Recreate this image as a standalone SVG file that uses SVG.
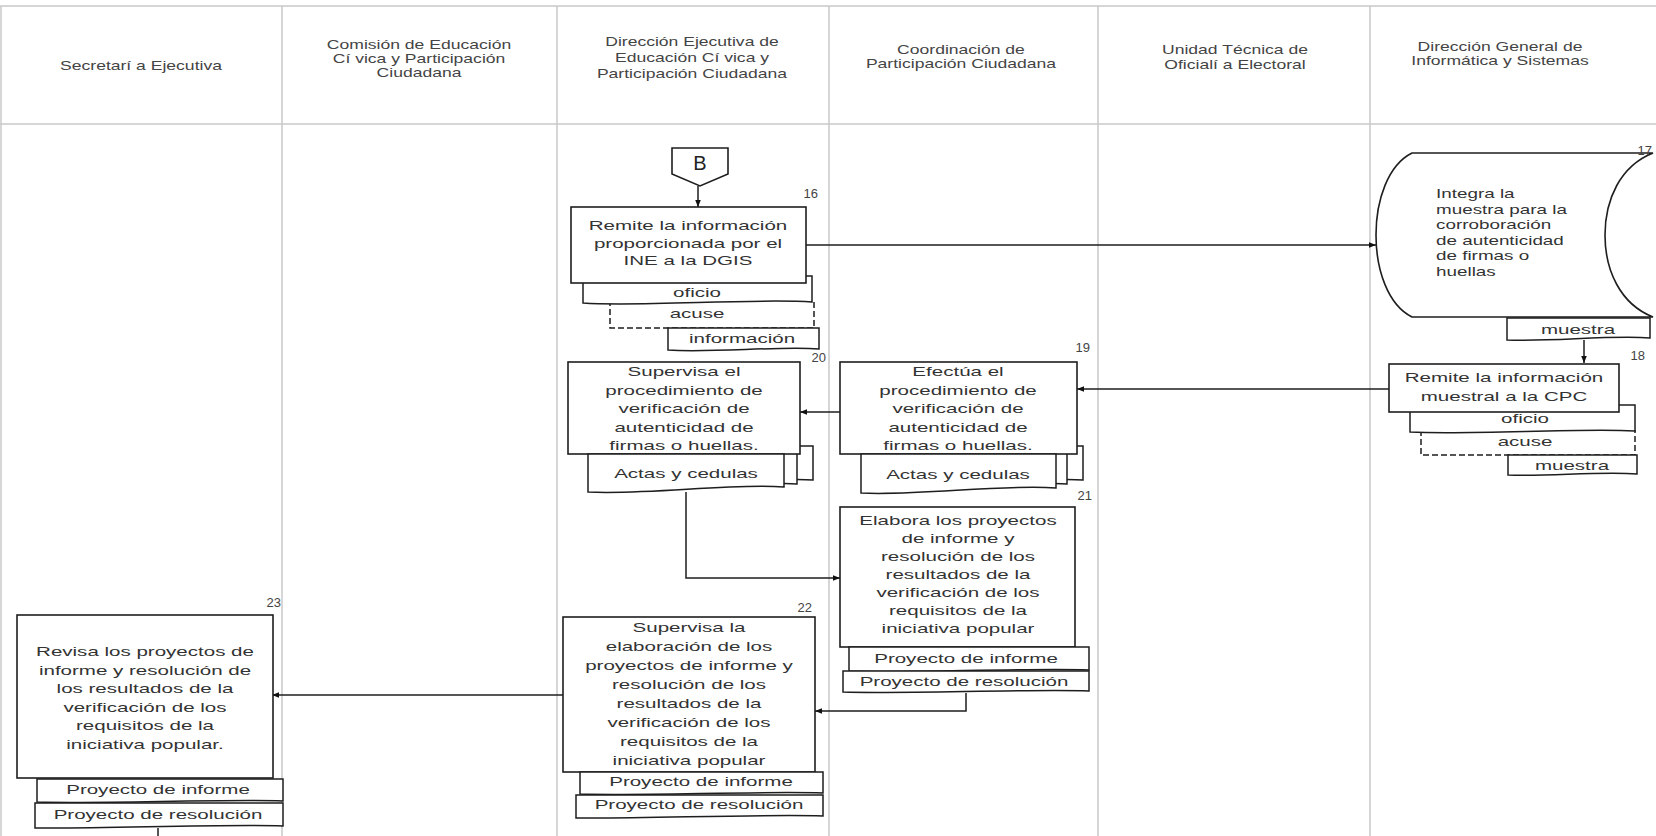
<svg xmlns="http://www.w3.org/2000/svg" width="1656" height="836" viewBox="0 0 1656 836">
<defs>
<style>
.lane{stroke:#c8c8c8;stroke-width:1.5;fill:none}
.box{fill:#fff;stroke:#1e1e1e;stroke-width:1.6}
.doc{fill:#fff;stroke:#1e1e1e;stroke-width:1.5}
.dash{fill:none;stroke:#1e1e1e;stroke-width:1.5;stroke-dasharray:6 3}
.conn{fill:none;stroke:#1e1e1e;stroke-width:1.5}
.arr{marker-end:url(#ah)}
text{font-family:"Liberation Sans",Arial,sans-serif;font-size:13px;fill:#333}
.c{text-anchor:middle}
.h{fill:#444}
.n{fill:#444;text-anchor:end;font-size:13px}
</style>
<marker id="ah" viewBox="0 0 10 10" refX="10" refY="5" markerWidth="8" markerHeight="7" orient="auto" markerUnits="userSpaceOnUse">
<path d="M0,1 L10,5 L0,9 Z" fill="#111"/>
</marker>
</defs>
<rect x="0" y="0" width="1656" height="836" fill="#fff"/>

<g id="lanes">
<line class="lane" x1="0" y1="6" x2="1656" y2="6"/>
<line class="lane" x1="0" y1="124" x2="1656" y2="124"/>
<line class="lane" x1="1" y1="6" x2="1" y2="836"/>
<line class="lane" x1="282" y1="6" x2="282" y2="836"/>
<line class="lane" x1="557" y1="6" x2="557" y2="836"/>
<line class="lane" x1="829" y1="6" x2="829" y2="836"/>
<line class="lane" x1="1098" y1="6" x2="1098" y2="836"/>
<line class="lane" x1="1370" y1="6" x2="1370" y2="836"/>
<g transform="translate(141 0) scale(1.35 1)"><text class="c h" x="0" y="70.5">Secretarí a Ejecutiva</text></g>
<g transform="translate(419 0) scale(1.35 1)"><text class="c h" x="0" y="49.5">Comisión de Educación</text><text class="c h" x="0" y="63.5">Cí vica y Participación</text><text class="c h" x="0" y="77.5">Ciudadana</text></g>
<g transform="translate(692 0) scale(1.35 1)"><text class="c h" x="0" y="46.5">Dirección Ejecutiva de</text><text class="c h" x="0" y="62">Educación Cí vica y</text><text class="c h" x="0" y="78">Participación Ciudadana</text></g>
<g transform="translate(961 0) scale(1.35 1)"><text class="c h" x="0" y="54.5">Coordinación de</text><text class="c h" x="0" y="68.5">Participación Ciudadana</text></g>
<g transform="translate(1235 0) scale(1.35 1)"><text class="c h" x="0" y="54.5">Unidad Técnica de</text><text class="c h" x="0" y="69.5">Oficialí a Electoral</text></g>
<g transform="translate(1500 0) scale(1.35 1)"><text class="c h" x="0" y="51.5">Dirección General de</text><text class="c h" x="0" y="65.5">Informática y Sistemas</text></g>
</g>

<g id="connectors">
<line class="conn arr" x1="698" y1="186" x2="698" y2="207"/>
<line class="conn arr" x1="805" y1="245" x2="1376" y2="245"/>
<line class="conn arr" x1="1584" y1="340" x2="1584" y2="363"/>
<line class="conn arr" x1="1389" y1="389" x2="1077" y2="389"/>
<line class="conn arr" x1="840" y1="412" x2="800" y2="412"/>
<path class="conn arr" d="M686,492 V578 H840"/>
<path class="conn arr" d="M966,693 V711 H815"/>
<line class="conn arr" x1="563" y1="695" x2="272" y2="695"/>
<line class="conn" x1="158" y1="828" x2="158" y2="836"/>
</g>

<g id="connector-B">
<path class="box" d="M672,148 H728 V174 L700,186 L672,174 Z"/>
<text class="c" x="700" y="170" style="font-size:20px;fill:#222">B</text>
</g>

<g id="node16">
<path class="dash" d="M610,300 V328 H814 V300"/>
<path class="doc" d="M583,276 H812 V302 C755,298 640,307 583,303 Z"/>
<rect class="box" x="571" y="207" width="235" height="76"/>
<text class="n" x="818" y="198">16</text>
<g transform="translate(688 0) scale(1.58 1)"><text class="c" x="0" y="230">Remite la información</text><text class="c" x="0" y="248">proporcionada por el</text><text class="c" x="0" y="265">INE a la DGIS</text></g>
<g transform="translate(697 0) scale(1.58 1)"><text class="c" x="0" y="297">oficio</text><text class="c" x="0" y="318">acuse</text></g>
<path class="doc" d="M668,328 H819 V349 C780,346 710,353 668,350 Z"/>
<g transform="translate(742 0) scale(1.58 1)"><text class="c" x="0" y="343.5">información</text></g>
</g>

<g id="node17">
<path class="box" d="M1412,153 H1653 C1620,166 1605,200 1605,235 C1605,270 1620,304 1653,317 H1412 C1388,305 1376,270 1376,235 C1376,200 1388,165 1412,153 Z"/>
<text class="n" x="1652" y="155">17</text>
<g transform="translate(1436 0) scale(1.45 1)"><text x="0" y="198.5">Integra la</text><text x="0" y="214">muestra para la</text><text x="0" y="229.5">corroboración</text><text x="0" y="245">de autenticidad</text><text x="0" y="260.5">de firmas o</text><text x="0" y="276">huellas</text></g>
<path class="doc" d="M1507,318 H1650 V338 C1610,335 1550,342 1507,340 Z"/>
<g transform="translate(1578 0) scale(1.58 1)"><text class="c" x="0" y="334">muestra</text></g>
</g>

<g id="node18">
<path class="dash" d="M1421,430 V455 H1635 V430"/>
<path class="doc" d="M1410,405 H1635 V431 C1580,428 1470,435 1410,432 Z"/>
<g transform="translate(1525 0) scale(1.58 1)"><text class="c" x="0" y="423">oficio</text><text class="c" x="0" y="446">acuse</text></g>
<rect class="box" x="1389" y="364" width="230" height="48"/>
<text class="n" x="1645" y="360">18</text>
<g transform="translate(1504 0) scale(1.58 1)"><text class="c" x="0" y="382.5">Remite la información</text><text class="c" x="0" y="401.5">muestral a la CPC</text></g>
<path class="doc" d="M1508,455 H1637 V474 C1600,471 1545,477 1508,475 Z"/>
<g transform="translate(1572 0) scale(1.58 1)"><text class="c" x="0" y="470">muestra</text></g>
</g>

<g id="node19">
<path class="doc" d="M880,446 H1083 V480 C1060,478 1040,481 1020,481 Z"/>
<path class="doc" d="M870,450 H1067 V484 C1050,482 1030,485 1010,485 Z"/>
<rect class="box" x="840" y="362" width="237" height="92"/>
<text class="n" x="1090" y="352">19</text>
<g transform="translate(958 0) scale(1.58 1)"><text class="c" x="0" y="376.5">Efectúa el</text><text class="c" x="0" y="395">procedimiento de</text><text class="c" x="0" y="413.5">verificación de</text><text class="c" x="0" y="432">autenticidad de</text><text class="c" x="0" y="450.5">firmas o huellas.</text></g>
<path class="doc" d="M861,454 H1056 V488 C1000,484 920,496 861,493 Z"/>
<g transform="translate(958 0) scale(1.58 1)"><text class="c" x="0" y="479.5">Actas y cedulas</text></g>
</g>

<g id="node20">
<path class="doc" d="M610,446 H813 V480 C790,478 770,481 750,481 Z"/>
<path class="doc" d="M598,450 H797 V484 C780,482 760,485 740,485 Z"/>
<rect class="box" x="568" y="362" width="232" height="92"/>
<text class="n" x="826" y="362">20</text>
<g transform="translate(684 0) scale(1.58 1)"><text class="c" x="0" y="376.5">Supervisa el</text><text class="c" x="0" y="395">procedimiento de</text><text class="c" x="0" y="413.5">verificación de</text><text class="c" x="0" y="432">autenticidad de</text><text class="c" x="0" y="450.5">firmas o huellas.</text></g>
<path class="doc" d="M588,454 H784 V487 C730,483 650,495 588,492 Z"/>
<g transform="translate(686 0) scale(1.58 1)"><text class="c" x="0" y="478.5">Actas y cedulas</text></g>
</g>

<g id="node21">
<rect class="box" x="840" y="507" width="235" height="140"/>
<text class="n" x="1092" y="500">21</text>
<g transform="translate(958 0) scale(1.58 1)"><text class="c" x="0" y="525.5">Elabora los proyectos</text><text class="c" x="0" y="543.5">de informe y</text><text class="c" x="0" y="561.5">resolución de los</text><text class="c" x="0" y="579.5">resultados de la</text><text class="c" x="0" y="597.5">verificación de los</text><text class="c" x="0" y="615.5">requisitos de la</text><text class="c" x="0" y="633.5">iniciativa popular</text></g>
<path class="doc" d="M849,647 H1089 V670 C1030,668 900,673 849,671 Z"/>
<g transform="translate(966 0) scale(1.58 1)"><text class="c" x="0" y="663.5">Proyecto de informe</text></g>
<path class="doc" d="M843,671 H1089 V691 C1030,689 900,694 843,692 Z"/>
<g transform="translate(964 0) scale(1.58 1)"><text class="c" x="0" y="686">Proyecto de resolución</text></g>
</g>

<g id="node22">
<rect class="box" x="563" y="617" width="252" height="155"/>
<text class="n" x="812" y="612">22</text>
<g transform="translate(689 0) scale(1.58 1)"><text class="c" x="0" y="632.5">Supervisa la</text><text class="c" x="0" y="651.5">elaboración de los</text><text class="c" x="0" y="670.5">proyectos de informe y</text><text class="c" x="0" y="689.5">resolución de los</text><text class="c" x="0" y="708.5">resultados de la</text><text class="c" x="0" y="727.5">verificación de los</text><text class="c" x="0" y="746.5">requisitos de la</text><text class="c" x="0" y="765.5">iniciativa popular</text></g>
<path class="doc" d="M580,772 H823 V793 C760,791 640,796 580,794 Z"/>
<g transform="translate(701 0) scale(1.58 1)"><text class="c" x="0" y="786.5">Proyecto de informe</text></g>
<path class="doc" d="M576,795 H823 V816 C760,814 640,819 576,818 Z"/>
<g transform="translate(699 0) scale(1.58 1)"><text class="c" x="0" y="809.5">Proyecto de resolución</text></g>
</g>

<g id="node23">
<rect class="box" x="17" y="615" width="256" height="163"/>
<text class="n" x="281" y="607">23</text>
<g transform="translate(145 0) scale(1.58 1)"><text class="c" x="0" y="656.5">Revisa los proyectos de</text><text class="c" x="0" y="675">informe y resolución de</text><text class="c" x="0" y="693.5">los resultados de la</text><text class="c" x="0" y="712">verificación de los</text><text class="c" x="0" y="730.5">requisitos de la</text><text class="c" x="0" y="749">iniciativa popular.</text></g>
<path class="doc" d="M37,779 H283 V801 C220,799 100,804 37,802 Z"/>
<g transform="translate(158 0) scale(1.58 1)"><text class="c" x="0" y="794.5">Proyecto de informe</text></g>
<path class="doc" d="M35,803 H283 V826 C220,824 100,829 35,828 Z"/>
<g transform="translate(158 0) scale(1.58 1)"><text class="c" x="0" y="819">Proyecto de resolución</text></g>
</g>
</svg>
